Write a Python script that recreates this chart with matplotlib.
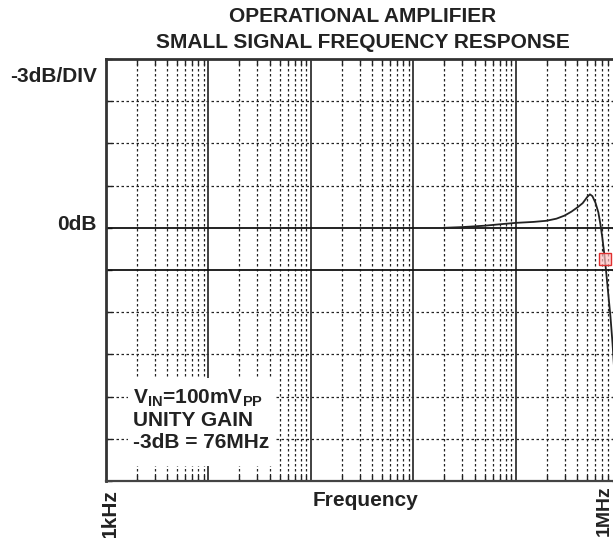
import matplotlib
matplotlib.use("Agg")
import matplotlib.pyplot as plt
from matplotlib.patches import Rectangle
import numpy as np

plt.rcParams['font.family'] = 'Liberation Sans'
plt.rcParams['font.weight'] = 'bold'
plt.rcParams['mathtext.fontset'] = 'custom'
plt.rcParams['mathtext.rm'] = 'Liberation Sans:bold'
plt.rcParams['mathtext.bf'] = 'Liberation Sans:bold'

# response curve (MHz, dB)
freq_mhz = [2, 3, 5, 7, 10, 15, 20, 25, 30, 35, 40, 45, 50, 53, 56, 60, 64, 67, 70, 73, 76, 80, 84, 88, 94, 100]
gain_db = [0.0, 0.05, 0.15, 0.25, 0.35, 0.42, 0.5, 0.65, 0.87, 1.15, 1.45, 1.75, 2.2, 2.38, 2.25, 1.78, 1.1, 0.27, -0.7, -1.8, -3.0, -4.7, -6.3, -8.2, -11.5, -15.0]

# little red marker on the curve
marker_mhz = [74.5]
marker_db = [-2.2]

x_min_hz, x_max_hz = 1e3, 1e8
y_min, y_max, y_step = -18, 12, 3
solid_levels = [0, -3]

W, H = 613, 538
fig = plt.figure(figsize=(W / 100, H / 100), dpi=100)

# axes position in pixels (right edge runs off the picture like the reference)
left, top, right, bottom = 105.7, 59, 618.2, 481
ax = fig.add_axes([left / W, 1 - bottom / H, (right - left) / W, (bottom - top) / H])

ax.set_xscale('log')
ax.set_xlim(x_min_hz, x_max_hz)
ax.set_ylim(y_min, y_max)

# grid: minor verticals dotted, decades solid
for dec in range(3, 8):
    for k in range(2, 10):
        ax.axvline(k * 10 ** dec, color='#222222', lw=0.9, ls=(0, (2, 2)), zorder=1)
    if dec > 3:
        ax.axvline(10 ** dec, color='#333333', lw=1.3, zorder=2)

for lev in np.arange(y_min + y_step, y_max, y_step):
    if lev in solid_levels:
        ax.axhline(lev, color='#111111', lw=1.3, zorder=2)
    else:
        ax.axhline(lev, color='#222222', lw=0.9, ls=(0, (2, 2)), zorder=1)

ax.set_xticks([])
ax.set_xticks([k * 10 ** d for d in range(3, 8) for k in range(2, 10)], minor=True)
ax.set_xticklabels([], minor=True)
ax.set_yticks(np.arange(y_min, y_max + 1, y_step))
ax.set_yticklabels([])
ax.tick_params(which='minor', axis='x', direction='in', length=4.5, width=1.0,
               top=True, bottom=True, color='#222222')
ax.tick_params(axis='y', direction='in', length=4, width=1.0, left=True, right=True,
               color='#222222')

for side in ['left', 'top']:
    ax.spines[side].set_linewidth(2.0)
    ax.spines[side].set_color('#333333')
ax.spines['bottom'].set_linewidth(1.6)
ax.spines['bottom'].set_color('#444444')

ax.plot([f * 1e6 for f in freq_mhz], gain_db, color='#222222', lw=1.3, zorder=5)
ax.plot([f * 1e6 for f in marker_mhz], marker_db, ls='none', marker='s', ms=8,
        mec='#e03030', mfc=(1, 0.75, 0.75, 0.7), mew=1.0, zorder=6)

# white patch behind the note
fig.patches.append(Rectangle((128 / W, 1 - 466 / H), 148 / W, 88 / H,
                             transform=fig.transFigure, facecolor='white',
                             edgecolor='none', zorder=3))
ax.set_zorder(0)


def px(x, y):
    return x / W, 1 - y / H


fs = 15
fig.text(*px(363, 17), 'OPERATIONAL AMPLIFIER', ha='center', va='center', fontsize=fs,
         color='#222222')
fig.text(*px(363, 43), 'SMALL SIGNAL FREQUENCY RESPONSE', ha='center', va='center',
         fontsize=fs, color='#222222')
fig.text(*px(97, 76), '-3dB/DIV', ha='right', va='center', fontsize=fs, color='#222222')
fig.text(*px(97, 224), '0dB', ha='right', va='center', fontsize=fs, color='#222222')
fig.text(*px(366, 501), 'Frequency', ha='center', va='center', fontsize=fs, color='#222222')
fig.text(*px(110, 489), '1kHz', ha='center', va='top', rotation=90, fontsize=fs,
         color='#222222')
fig.text(*px(604, 485), '1MHz', ha='center', va='top', rotation=90, fontsize=14,
         color='#222222')

note = [r'V$_{\mathrm{IN}}$=100mV$_{\mathrm{PP}}$', 'UNITY GAIN', '-3dB = 76MHz']
note_y = [398, 420, 443]
for s, yy in zip(note, note_y):
    t = fig.text(*px(133, yy), s, ha='left', va='center', fontsize=fs, color='#222222')
    t.set_zorder(4)

fig.savefig('out.png', dpi=100)
